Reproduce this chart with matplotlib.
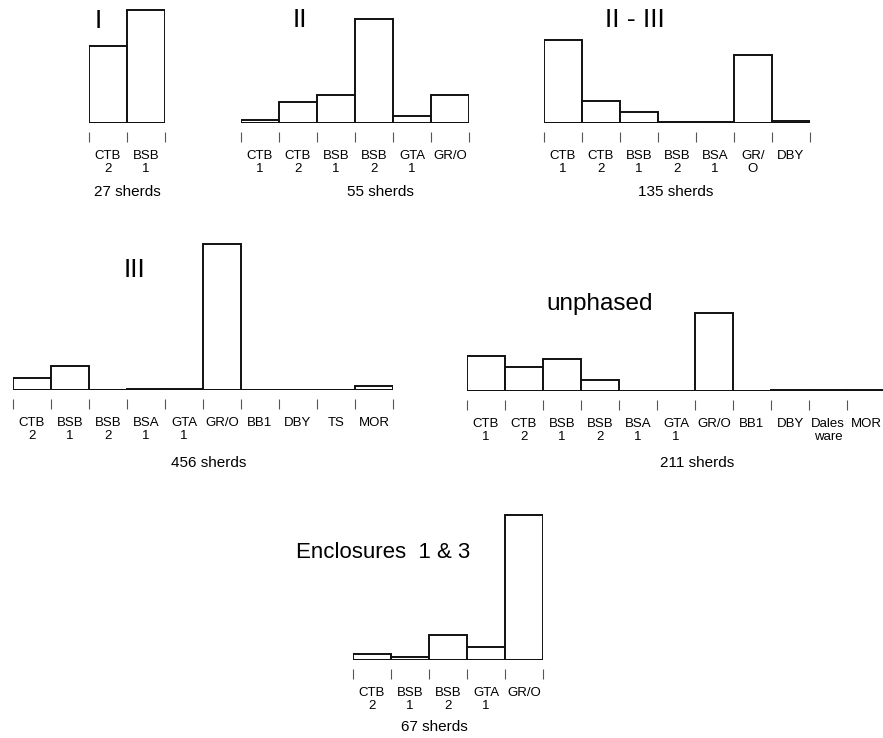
import matplotlib
matplotlib.use('Agg')  # no display
import matplotlib.pyplot as plt

W, H = 883, 738
PX_PER_PCT = 1.9   # bar height in pixels for 1 % of sherds
SLOT = 38          # bar width in pixels

plt.rcParams['font.family'] = ['Liberation Sans', 'DejaVu Sans']

# percentages of sherds per fabric
phase1_labels = ['CTB\n2', 'BSB\n1']
phase1_pct = [40.7, 59.3]

phase2_labels = ['CTB\n1', 'CTB\n2', 'BSB\n1', 'BSB\n2', 'GTA\n1', 'GR/O']
phase2_pct = [1.8, 10.9, 14.5, 54.5, 3.6, 14.5]

phase23_labels = ['CTB\n1', 'CTB\n2', 'BSB\n1', 'BSB\n2', 'BSA\n1', 'GR/\nO', 'DBY']
phase23_pct = [43.7, 11.6, 5.8, 0.7, 0.7, 35.8, 1.0]

phase3_labels = ['CTB\n2', 'BSB\n1', 'BSB\n2', 'BSA\n1', 'GTA\n1', 'GR/O',
                 'BB1', 'DBY', 'TS', 'MOR']
phase3_pct = [6.3, 12.5, 0, 0.5, 0.5, 76.7, 0, 0.2, 0, 1.9]

unphased_labels = ['CTB\n1', 'CTB\n2', 'BSB\n1', 'BSB\n2', 'BSA\n1', 'GTA\n1',
                   'GR/O', 'BB1', 'DBY', 'Dales\nware', 'MOR']
unphased_pct = [18.3, 12.6, 16.8, 5.8, 0, 0, 41.1, 0, 0.6, 0.6, 0.6]

encl_labels = ['CTB\n2', 'BSB\n1', 'BSB\n2', 'GTA\n1', 'GR/O']
encl_pct = [3.3, 1.6, 13.2, 6.8, 76.3]

# layout in pixels: left edge, baseline, title (x, y), title size, sherd note (x, y)
panels = [
    ('I', phase1_labels, phase1_pct, '27 sherds', 89, 123, (98, 21), 19, (127, 192)),
    ('II', phase2_labels, phase2_pct, '55 sherds', 241, 123, (300, 20), 19, (380, 192)),
    ('II - III', phase23_labels, phase23_pct, '135 sherds', 544, 123, (635, 20), 19, (676, 192)),
    ('III', phase3_labels, phase3_pct, '456 sherds', 13, 390, (134, 270), 19, (209, 463)),
    ('unphased', unphased_labels, unphased_pct, '211 sherds', 467, 391, (600, 304), 17.5, (697, 463)),
    ('Enclosures  1 & 3', encl_labels, encl_pct, '67 sherds', 353, 660, (383, 552), 16, (434, 727)),
]

fig = plt.figure(figsize=(W / 100, H / 100), dpi=100)

for title, labels, pct, note, left, base, tpos, tsize, npos in panels:
    n = len(pct)
    top = max(pct) * 1.03
    ax = fig.add_axes([left / W, 1 - base / H, n * SLOT / W, top * PX_PER_PCT / H])
    ax.patch.set_alpha(0)
    ax.bar(range(n), pct, width=1.0, align='edge', facecolor='white',
           edgecolor='#111111', linewidth=1.4)
    ax.axhline(0, color='#111111', linewidth=1.4)
    ax.set_xlim(0, n)
    ax.set_ylim(0, top)
    for s in ['top', 'right', 'left']:
        ax.spines[s].set_visible(False)
    ax.spines['bottom'].set_position(('outward', 6.5))
    ax.spines['bottom'].set_visible(False)
    ax.set_yticks([])
    ax.set_xticks(range(n + 1))
    ax.set_xticklabels([])
    ax.tick_params(axis='x', which='major', direction='out', length=7.5,
                   width=0.8, color='#555555')
    ax.set_xticks([i + 0.5 for i in range(n)], minor=True)
    ax.set_xticklabels(labels, minor=True, fontsize=9.5, linespacing=1.15)
    ax.tick_params(axis='x', which='minor', length=0, pad=13)
    fig.text(tpos[0] / W, 1 - tpos[1] / H, title, fontsize=tsize,
             ha='center', va='center')
    fig.text(npos[0] / W, 1 - npos[1] / H, note, fontsize=11,
             ha='center', va='center')

fig.savefig('out.png', dpi=100, facecolor='white')
